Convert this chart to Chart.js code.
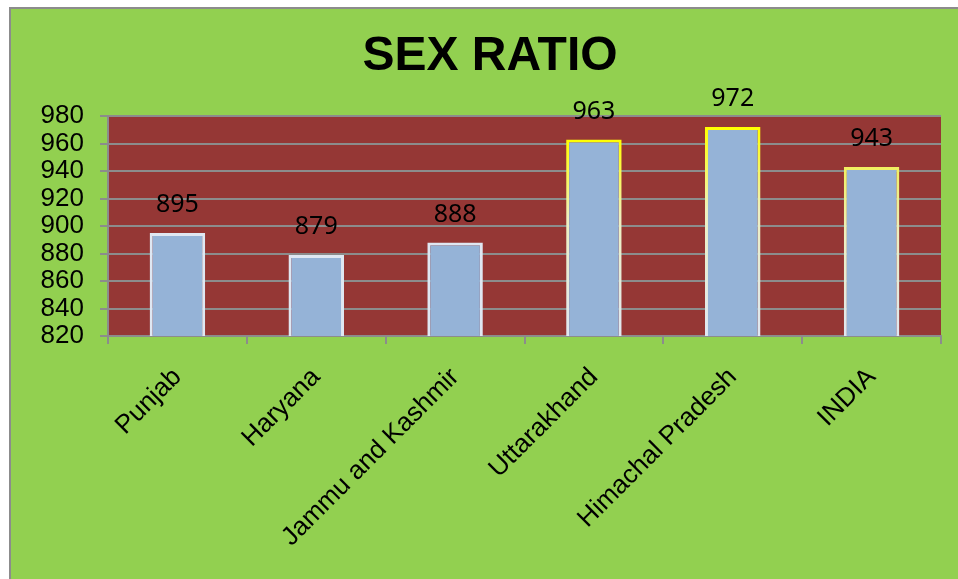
<!DOCTYPE html>
<html>
<head>
<meta charset="utf-8">
<script src="https://cdn.jsdelivr.net/npm/chart.js@4.4.0/dist/chart.umd.min.js"></script>
<style>
  html, body { margin: 0; padding: 0; background: #fff; overflow: hidden; }
  #box {
    position: absolute; left: 9px; top: 7px;
    width: 947px; height: 570px;
    border-left: 2px solid #8c8c8c; border-top: 2px solid #8c8c8c;
    background: #92d050;
  }
</style>
</head>
<body>
<div id="box"><canvas id="canv" width="947" height="570"></canvas></div>
<script>
var states = ["Punjab", "Haryana", "Jammu and Kashmir", "Uttarakhand", "Himachal Pradesh", "INDIA"];
var sexRatio = [895, 879, 888, 963, 972, 943];
var yTicks = [820, 840, 860, 880, 900, 920, 940, 960, 980];
var chartTitle = "SEX RATIO";

// plot area fill + title
var plotBg = {
  id: "plotBg",
  beforeDraw: function(chart) {
    var a = chart.chartArea, ctx = chart.ctx;
    ctx.save();
    ctx.fillStyle = "#953735";
    ctx.fillRect(a.left, a.top, a.right - a.left, a.bottom - a.top);
    ctx.font = "bold 48px 'Liberation Sans'";
    ctx.fillStyle = "#000";
    ctx.textAlign = "center";
    ctx.textBaseline = "middle";
    ctx.fillText(chartTitle, 479, 48);
    ctx.restore();
  }
};

// value above each bar
var valueLabels = {
  id: "valueLabels",
  afterDatasetsDraw: function(chart) {
    var ctx = chart.ctx;
    var meta = chart.getDatasetMeta(0);
    ctx.save();
    ctx.font = "25px 'Noto Sans'";
    ctx.fillStyle = "#000";
    ctx.textAlign = "center";
    ctx.textBaseline = "middle";
    for (var i = 0; i < meta.data.length; i++) {
      var bar = meta.data[i];
      ctx.fillText(sexRatio[i], bar.x, bar.y - 28);
    }
    ctx.restore();
  }
};

function barBorder(context) {
  var chart = context.chart;
  if (context.dataIndex < 3 || !chart.chartArea || !chart.scales.y) return "#dfe7f2";
  var top = chart.scales.y.getPixelForValue(context.raw);
  var bottom = chart.chartArea.bottom;
  var g = chart.ctx.createLinearGradient(0, top, 0, bottom);
  g.addColorStop(0, context.dataIndex == 5 ? "#f0f060" : "#ffff00");
  g.addColorStop(0.4, "#eef0c0");
  g.addColorStop(1, "#dfe7f2");
  return g;
}

new Chart(document.getElementById("canv"), {
  type: "bar",
  data: {
    labels: states,
    datasets: [{
      data: sexRatio,
      backgroundColor: "#95b3d7",
      borderColor: barBorder,
      borderWidth: 3,
      borderSkipped: "bottom",
      categoryPercentage: 1.0,
      barPercentage: 0.4
    }]
  },
  options: {
    responsive: false,
    animation: false,
    layout: { padding: { left: 0, right: 17, top: 107, bottom: 0 } },
    plugins: {
      legend: { display: false },
      tooltip: { enabled: false },
      title: { display: false }
    },
    scales: {
      x: {
        grid: { offset: true, drawOnChartArea: false, drawTicks: true, tickLength: 8, color: "#8c8c8c", lineWidth: 2 },
        border: { display: true, color: "#8c8c8c", width: 2 },
        ticks: {
          color: "#000",
          font: { family: "'Liberation Sans'", size: 26 },
          minRotation: 45, maxRotation: 45,
          padding: 18
        },
        afterFit: function(scale) { scale.height = 243; }
      },
      y: {
        min: 820, max: 980,
        afterBuildTicks: function(scale) {
          scale.ticks = yTicks.map(function(v) { return { value: v }; });
        },
        grid: { color: "#8c8c8c", lineWidth: 2, tickLength: 8 },
        border: { display: true, color: "#8c8c8c", width: 2 },
        ticks: {
          autoSkip: false,
          color: "#000",
          font: { family: "'Liberation Sans'", size: 26 },
          padding: 16
        },
        afterFit: function(scale) { scale.width = 97; }
      }
    }
  },
  plugins: [plotBg, valueLabels]
});
</script>
</body>
</html>
